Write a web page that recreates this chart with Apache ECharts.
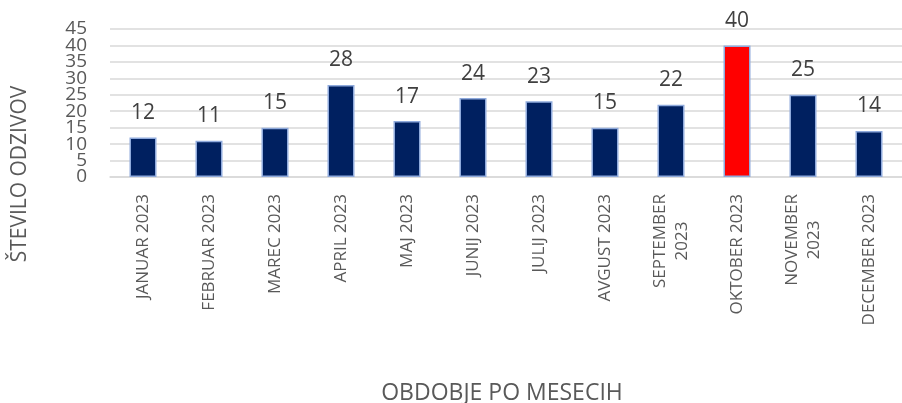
<!DOCTYPE html>
<html>
<head>
<meta charset="utf-8">
<script src="https://cdn.jsdelivr.net/npm/echarts@6/dist/echarts.min.js"></script>
<style>
  html, body { margin: 0; padding: 0; background: #fff; }
  #chart { width: 902px; height: 403px; }
</style>
</head>
<body>
<div id="chart"></div>
<script>
// Monthly response counts for 2023
const months = [
  'JANUAR 2023', 'FEBRUAR 2023', 'MAREC 2023', 'APRIL 2023', 'MAJ 2023', 'JUNIJ 2023',
  'JULIJ 2023', 'AVGUST 2023', 'SEPTEMBER\n2023', 'OKTOBER 2023', 'NOVEMBER\n2023', 'DECEMBER 2023'
];
const responses = [12, 11, 15, 28, 17, 24, 23, 15, 22, 40, 25, 14];
const peakMonth = 'OKTOBER 2023';
const yTicks = [0, 5, 10, 15, 20, 25, 30, 35, 40, 45];

const textColor = '#595959';
const fontFamily = '"Open Sans", "Noto Sans", sans-serif';

const chart = echarts.init(document.getElementById('chart'));

const barData = months.map((m, i) => ({
  value: responses[i],
  itemStyle: { color: m === peakMonth ? '#ff0000' : '#002060' }
}));

// The tick labels are packed tighter than their glyph height, so they are
// split over two overlaid axes with the same scale (alternate ticks each),
// which keeps every value visible.
function valueAxis(parity, withGrid) {
  return {
    type: 'value',
    position: 'left',
    min: yTicks[0],
    max: yTicks[yTicks.length - 1],
    interval: yTicks[1] - yTicks[0],
    axisLine: { show: false },
    axisTick: { show: false },
    splitLine: { show: withGrid, lineStyle: { color: '#d9d9d9', width: 1.5 } },
    axisLabel: {
      margin: 23,
      color: textColor,
      fontSize: 19,
      fontFamily: fontFamily,
      showMinLabel: true,
      showMaxLabel: true,
      formatter: v => (yTicks.indexOf(v) % 2 === parity ? String(v) : '')
    }
  };
}

chart.setOption({
  animation: false,
  textStyle: { fontFamily: fontFamily },
  grid: { left: 110, right: -12, top: 29, bottom: 226, containLabel: false },
  xAxis: {
    type: 'category',
    data: months,
    axisLine: { lineStyle: { color: '#d9d9d9', width: 1.5 } },
    axisTick: { show: false },
    axisLabel: {
      rotate: 90,
      interval: 0,
      margin: 17,
      color: textColor,
      fontSize: 17,
      fontFamily: fontFamily,
      hideOverlap: false,
      formatter: v => v.split('\n').map(s => '{t|' + s + '}').join('\n'),
      rich: { t: { align: 'center', fontSize: 17, color: textColor, fontFamily: fontFamily, lineHeight: 22 } }
    }
  },
  yAxis: [valueAxis(0, true), valueAxis(1, false)],
  series: [{
    type: 'bar',
    yAxisIndex: 0,
    data: barData,
    barWidth: 27,
    itemStyle: { borderColor: '#8faadc', borderWidth: 1.5 },
    label: {
      show: true,
      position: 'top',
      distance: 14,
      color: '#404040',
      fontSize: 21,
      fontFamily: fontFamily
    }
  }],
  graphic: [
    {
      type: 'text',
      x: 20, y: 174,
      rotation: Math.PI / 2,
      style: {
        text: 'ŠTEVILO ODZIVOV',
        fill: textColor,
        font: '21px ' + fontFamily,
        textAlign: 'center',
        textVerticalAlign: 'middle'
      }
    },
    {
      type: 'text',
      x: 502, y: 393,
      style: {
        text: 'OBDOBJE PO MESECIH',
        fill: textColor,
        font: '23px ' + fontFamily,
        textAlign: 'center',
        textVerticalAlign: 'middle'
      }
    }
  ]
});
</script>
</body>
</html>
